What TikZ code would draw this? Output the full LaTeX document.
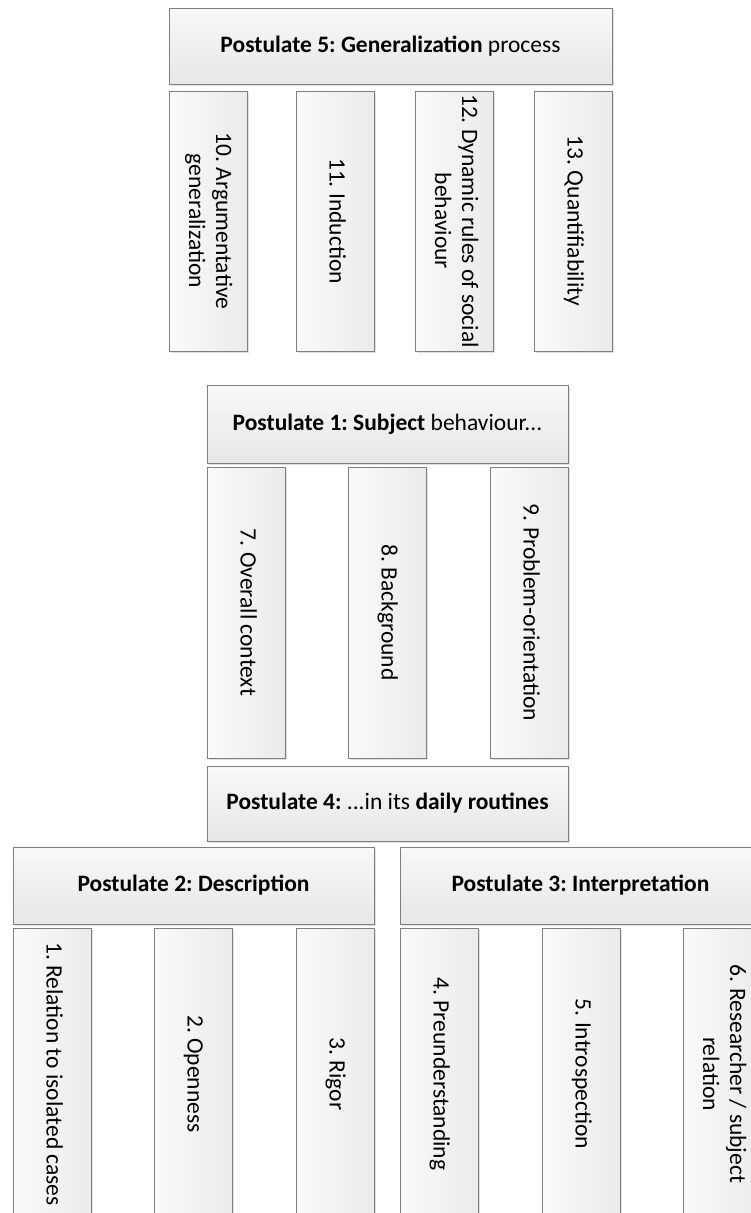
\documentclass[tikz,border=0pt]{standalone}
\usepackage{fontspec}
\usepackage{graphicx}
\setmainfont{Carlito}
\frenchspacing
\usetikzlibrary{shadows}

\definecolor{edge}{HTML}{7F7F7F}
\definecolor{hdrtop}{HTML}{F8F8F8}
\definecolor{hdrbot}{HTML}{E7E7E7}
\definecolor{coldark}{HTML}{EBEBEB}
\definecolor{collight}{HTML}{FAFAFA}

% vertical text inside a column box, first line facing right
\newcommand{\vtext}[1]{\rotatebox{-90}{\begin{tabular}{@{}c@{}}#1\end{tabular}}}

\begin{document}
\begin{tikzpicture}[x=1pt,y=-1pt,
  box/.style={draw=edge, line width=0.9pt, inner sep=0pt, outer sep=0pt,
    anchor=north west,
    drop shadow={shadow xshift=1.6pt, shadow yshift=-1.6pt, fill=black, opacity=0.12}},
  hdr/.style={box, top color=hdrtop, bottom color=hdrbot,
    font=\fontsize{23.5}{28}\selectfont},
  col/.style={box, left color=collight, right color=coldark,
    minimum width=78, font=\fontsize{23.5}{27}\selectfont},
  topcol/.style={col, minimum height=260},
  midcol/.style={col, minimum height=291},
  lowcol/.style={col, minimum height=292},
]
\path[use as bounding box, clip] (0,0) rectangle (751,1213);

% Postulate 5 and its criteria
\node[hdr, minimum width=443, minimum height=76] (p5) at (169,8)
  {\textbf{Postulate 5: Generalization} process};
\node[topcol] (c10) at (169,91) {\vtext{10. Argumentative\\generalization}};
\node[topcol] (c11) at (296,91) {\vtext{11. Induction}};
\node[topcol] (c12) at (415,91) {\vtext{12. Dynamic rules of social\\behaviour}};
\node[topcol] (c13) at (534,91) {\vtext{13. Quantifiability}};

% Postulate 1 and its criteria
\node[hdr, minimum width=361, minimum height=78] (p1) at (207,385)
  {\textbf{Postulate 1: Subject} behaviour...};
\node[midcol] (c7) at (207,467) {\vtext{7. Overall context}};
\node[midcol] (c8) at (348,467) {\vtext{8. Background}};
\node[midcol] (c9) at (490,467) {\vtext{9. Problem-orientation}};

% Postulate 4
\node[hdr, minimum width=361, minimum height=75] (p4) at (207,766)
  {\textbf{Postulate 4:} ...in its \textbf{daily routines}};

% Postulate 2 and its criteria
\node[hdr, minimum width=361, minimum height=77] (p2) at (13,847)
  {\textbf{Postulate 2: Description}};
\node[lowcol] (c1) at (13,928) {\vtext{1. Relation to isolated cases}};
\node[lowcol] (c2) at (154,928) {\vtext{2. Openness}};
\node[lowcol] (c3) at (296,928) {\vtext{3. Rigor}};

% Postulate 3 and its criteria
\node[hdr, minimum width=361, minimum height=77] (p3) at (400,847)
  {\textbf{Postulate 3: Interpretation}};
\node[lowcol] (c4) at (400,928) {\vtext{4. Preunderstanding}};
\node[lowcol] (c5) at (542,928) {\vtext{5. Introspection}};
\node[lowcol] (c6) at (683,928) {\vtext{6. Researcher / subject\\relation}};
\end{tikzpicture}
\end{document}
